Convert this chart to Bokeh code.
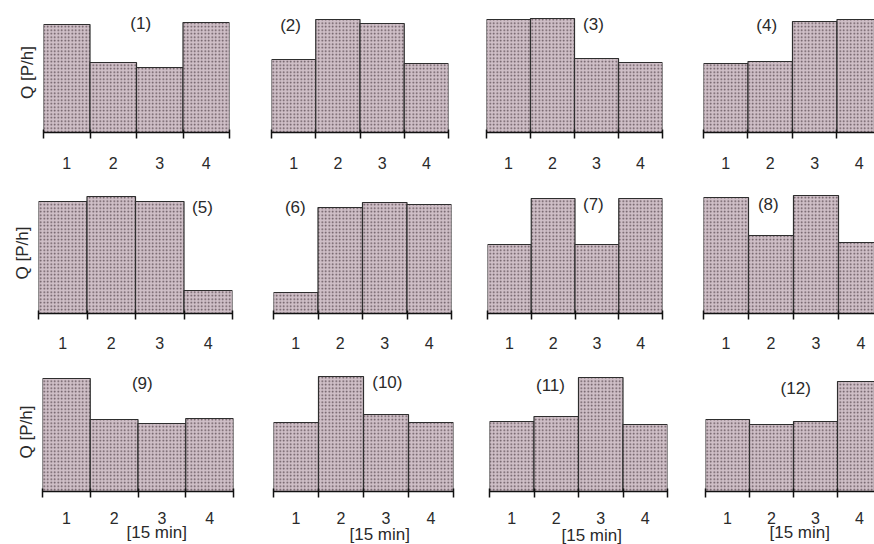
from bokeh.plotting import figure
from bokeh.layouts import column, row
from bokeh.models import Range1d, FixedTicker, Label, Title
from bokeh.embed import file_html
from bokeh.resources import INLINE

# ---- data (relative flow per 15-minute interval) ----
slots = [1, 2, 3, 4]
slot_labels = ["1", "2", "3", "4"]
q1 = [108, 70, 65, 110]
q2 = [73, 113, 109, 69]
q3 = [113, 114, 74, 70]
q4 = [69, 71, 111, 113]
q5 = [112, 117, 112, 23]
q6 = [21, 106, 111, 109]
q7 = [69, 115, 69, 115]
q8 = [116, 78, 118, 71]
q9 = [113, 72, 68, 73]
q10 = [69, 115, 77, 69]
q11 = [70, 75, 114, 67]
q12 = [72, 67, 70, 110]
panel_names = ["(1)", "(2)", "(3)", "(4)", "(5)", "(6)", "(7)", "(8)",
               "(9)", "(10)", "(11)", "(12)"]
y_title = "Q [P/h]"
x_title = "[15 min]"

series = [q1, q2, q3, q4, q5, q6, q7, q8, q9, q10, q11, q12]

# ---- layout / style ----
FONT = "Liberation Sans"
TXT = "#2a2a2a"
col_w = [250, 217, 217, 190]
row_h = [185, 180, 179]
mbt = [12, 7, 7]
mbb = [53, 52, 53]
mbl = [[43, 21, 19, 19], [38, 23, 20, 19], [42, 23, 22, 21]]
mbr = [[21, 19, 22, 0], [18, 16, 22, 0], [17, 14, 17, 0]]
x_end = [[4.5, 4.5, 4.5, 4.343], [4.5, 4.5, 4.5, 4.3], [4.5, 4.5, 4.5, 4.34]]
y_top = [120, 121, 119]
tick_standoff = [18, 17, 14]
name_pos = [(2.59, 109), (0.93, 107), (2.93, 108), (1.92, 107),
            (3.88, 106), (0.99, 106), (2.92, 109), (1.94, 109),
            (2.59, 108), (3.03, 109), (1.87, 106), (2.55, 103)]
xt_offset = [84, 76, 72, 64]
xt_standoff = [-11, -7, -5, -11]

rows = []
for r in range(3):
    figs = []
    for c in range(4):
        i = r * 4 + c
        p = figure(width=col_w[c], height=row_h[r], output_backend="svg",
                   toolbar_location=None,
                   x_range=Range1d(0.5, x_end[r][c]),
                   y_range=Range1d(0, y_top[r]),
                   y_axis_location="left" if c == 0 else None,
                   min_border_left=mbl[r][c], min_border_right=mbr[r][c],
                   min_border_top=mbt[r], min_border_bottom=mbb[r])
        p.outline_line_color = None
        p.xgrid.visible = False
        p.ygrid.visible = False
        p.background_fill_color = "white"
        p.border_fill_color = "white"

        p.vbar(x=slots, top=series[i], width=1.0, bottom=0,
               fill_color="#cfbfc7", line_color="#2e2e2e", line_width=1.2,
               hatch_pattern="dot", hatch_color="#5e4e56", hatch_scale=3.5,
               hatch_weight=1.2)

        ax = p.xaxis[0]
        ax.ticker = FixedTicker(ticks=slots, minor_ticks=[0.5, 1.5, 2.5, 3.5, 4.5])
        ax.major_label_overrides = {s: l for s, l in zip(slots, slot_labels)}
        ax.major_tick_line_color = None
        ax.major_tick_out = 0
        ax.major_tick_in = 0
        ax.minor_tick_line_color = "#111111"
        ax.minor_tick_line_width = 1.5
        ax.minor_tick_out = 6
        ax.minor_tick_in = 3
        ax.axis_line_color = "#111111"
        ax.axis_line_width = 1.5
        ax.major_label_standoff = tick_standoff[r]
        ax.major_label_text_font = FONT
        ax.major_label_text_font_size = "16px"
        ax.major_label_text_color = TXT

        if c == 0:
            ya = p.yaxis[0]
            ya.ticker = FixedTicker(ticks=[])
            ya.axis_line_color = None
            ya.major_tick_line_color = None
            ya.minor_tick_line_color = None
            ya.major_tick_out = 0
            ya.major_label_standoff = 0
            ya.axis_label = y_title
            ya.axis_label_standoff = 7
            ya.axis_label_text_font = FONT
            ya.axis_label_text_font_size = "17px"
            ya.axis_label_text_font_style = "normal"
            ya.axis_label_text_color = TXT

        nx, ny = name_pos[i]
        p.add_layout(Label(x=nx, y=ny, text=panel_names[i], text_align="center",
                           text_baseline="middle", text_font=FONT,
                           text_font_size="17px", text_color=TXT))
        if r == 2:
            p.add_layout(Title(text=x_title, align="left", offset=xt_offset[c],
                               standoff=xt_standoff[c], text_font=FONT,
                               text_font_size="17px", text_font_style="normal",
                               text_color=TXT), "below")
        figs.append(p)
    rows.append(row(*figs, spacing=0))

layout = column(*rows, spacing=0)
open("out.html", "w").write(file_html(layout, INLINE))
